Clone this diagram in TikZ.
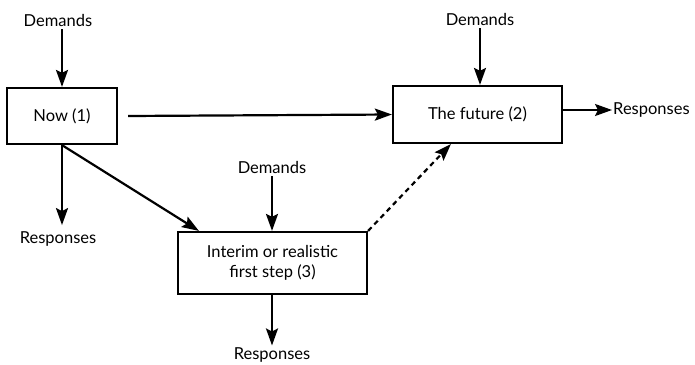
\documentclass[tikz,border=0pt]{standalone}
\usepackage{fontspec}
\setmainfont{Lato}
\usetikzlibrary{arrows.meta,calc}
\begin{document}
\begin{tikzpicture}[x=1pt,y=-1pt,
  font=\fontsize{16.5}{19.5}\selectfont,
  stagebox/.style={draw,line width=2.2pt,align=center,inner sep=0pt},
  lbl/.style={inner sep=1pt},
  arr/.style={line width=2.2pt,-{Stealth[length=17pt,width=12pt,inset=3pt]}},
  dotarr/.style={arr,dash pattern=on 5pt off 4pt}]
\useasboundingbox (0,0) rectangle (695,364);

% stage boxes
\node[stagebox,minimum width=110pt,minimum height=56pt] (now) at (62,116) {Now (1)};
\node[stagebox,minimum width=169pt,minimum height=57pt] (future) at (477.5,114.5) {The future (2)};
\node[stagebox,minimum width=189pt,minimum height=62pt] (interim) at (272.5,263)
  {Interim or realistic\\first step (3)};

% demand and response labels
\node[lbl] (dnow) at (58,20) {Demands};
\node[lbl] (dfut) at (480,19) {Demands};
\node[lbl] (dint) at (272,167) {Demands};
\node[lbl] (rnow) at (58,239) {Responses};
\node[lbl,anchor=west] (rfut) at (612,110) {Responses};
\node[lbl] (rint) at (272,355) {Responses};

% demands flowing in
\draw[arr] (dnow.south -| now.north) ++(0,2) -- (now.north);
\draw[arr] (dfut.south) ++(0,2) -- (dfut.south |- future.north);
\draw[arr] (dint.south) ++(0,2) -- (dint.south |- interim.north);

% responses flowing out
\draw[arr] (now.south) -- ($(now.south)+(0,80)$) coordinate (rnowtip);
\draw[arr] (future.east |- rfut.west) -- (rfut.west);
\draw[arr] (rint.north |- interim.south) -- ($(rint.north)+(0,-1)$);

% transitions between stages
\draw[arr] ($(now.east)+(10,0)$) -- (future.west);
\draw[arr] (now.south) -- ($(interim.north west)+(22,0)$);
\draw[dotarr] (interim.north east) -- ($(future.south west)+(59,0)$);
\end{tikzpicture}
\end{document}
